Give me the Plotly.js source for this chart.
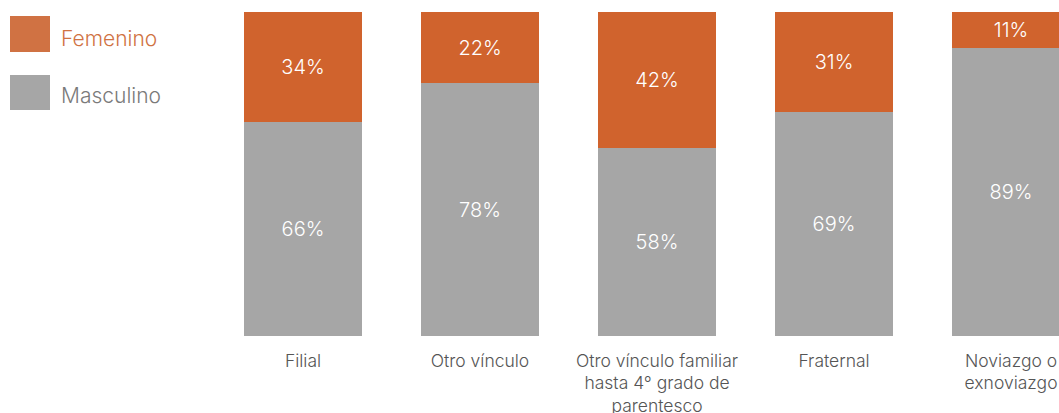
<!DOCTYPE html>
<html><head><meta charset="utf-8">
<script src="https://cdn.plot.ly/plotly-3.0.1.min.js"></script>
<style>html,body{margin:0;padding:0;background:#fff;}#chart{width:1059px;height:413px;}</style>
</head><body><div id="chart"></div>
<script>
const categories = ["Filial", "Otro vínculo", "Otro vínculo familiar<br>hasta 4° grado de<br>parentesco", "Fraternal", "Noviazgo o<br>exnoviazgo"];
const masculino = [66, 78, 58, 69, 89];
const femenino = [34, 22, 42, 31, 11];
const seriesNames = ["Femenino", "Masculino"];
const colorFem = "#D0632D";
const colorMasc = "#A6A6A6";

const font = "Inter, 'Noto Sans', sans-serif";
const traces = [
  {type:"bar", name:seriesNames[1], x:categories, y:masculino, marker:{color:colorMasc},
   texttemplate:"%{y}%", textposition:"inside", insidetextanchor:"middle",
   textfont:{color:"#ffffff", size:20, family:font, weight:300}, hoverinfo:"skip"},
  {type:"bar", name:seriesNames[0], x:categories, y:femenino, marker:{color:colorFem},
   texttemplate:"%{y}%", textposition:"inside", insidetextanchor:"middle",
   textfont:{color:"#ffffff", size:20, family:font, weight:300}, hoverinfo:"skip"}
];
const L = 200, W = 859;
const px = v => (v - L) / W;
const layout = {
  width:1059, height:413, barmode:"stack", bargap:0.333, showlegend:false,
  margin:{l:L, r:0, t:12, b:77},
  paper_bgcolor:"#fff", plot_bgcolor:"#fff",
  font:{family:font, color:"#595959", size:18, weight:300},
  xaxis:{type:"category", range:[-0.582, 4.271], showgrid:false, zeroline:false, showline:false, ticks:"",
         ticklabelstandoff:12,
         tickfont:{size:17.5, color:"#555555", family:font, weight:300}, fixedrange:true},
  yaxis:{range:[0,100], visible:false, fixedrange:true},
  shapes:[
    {type:"rect", xref:"paper", yref:"paper", x0:px(10), x1:px(50), y0:(336-52)/324, y1:(336-16)/324, fillcolor:"#D07243", line:{width:0}},
    {type:"rect", xref:"paper", yref:"paper", x0:px(10), x1:px(50), y0:(336-110)/324, y1:(336-75)/324, fillcolor:colorMasc, line:{width:0}}
  ],
  annotations:[
    {xref:"paper", yref:"paper", x:px(59), y:(336-38)/324, xanchor:"left", yanchor:"middle", text:seriesNames[0], showarrow:false, font:{size:21, color:"#D07243", family:font, weight:300}},
    {xref:"paper", yref:"paper", x:px(59), y:(336-95)/324, xanchor:"left", yanchor:"middle", text:seriesNames[1], showarrow:false, font:{size:21, color:"#7a7a7a", family:font, weight:300}}
  ]
};
Plotly.newPlot("chart", traces, layout, {displayModeBar:false, staticPlot:true});
</script></body></html>
